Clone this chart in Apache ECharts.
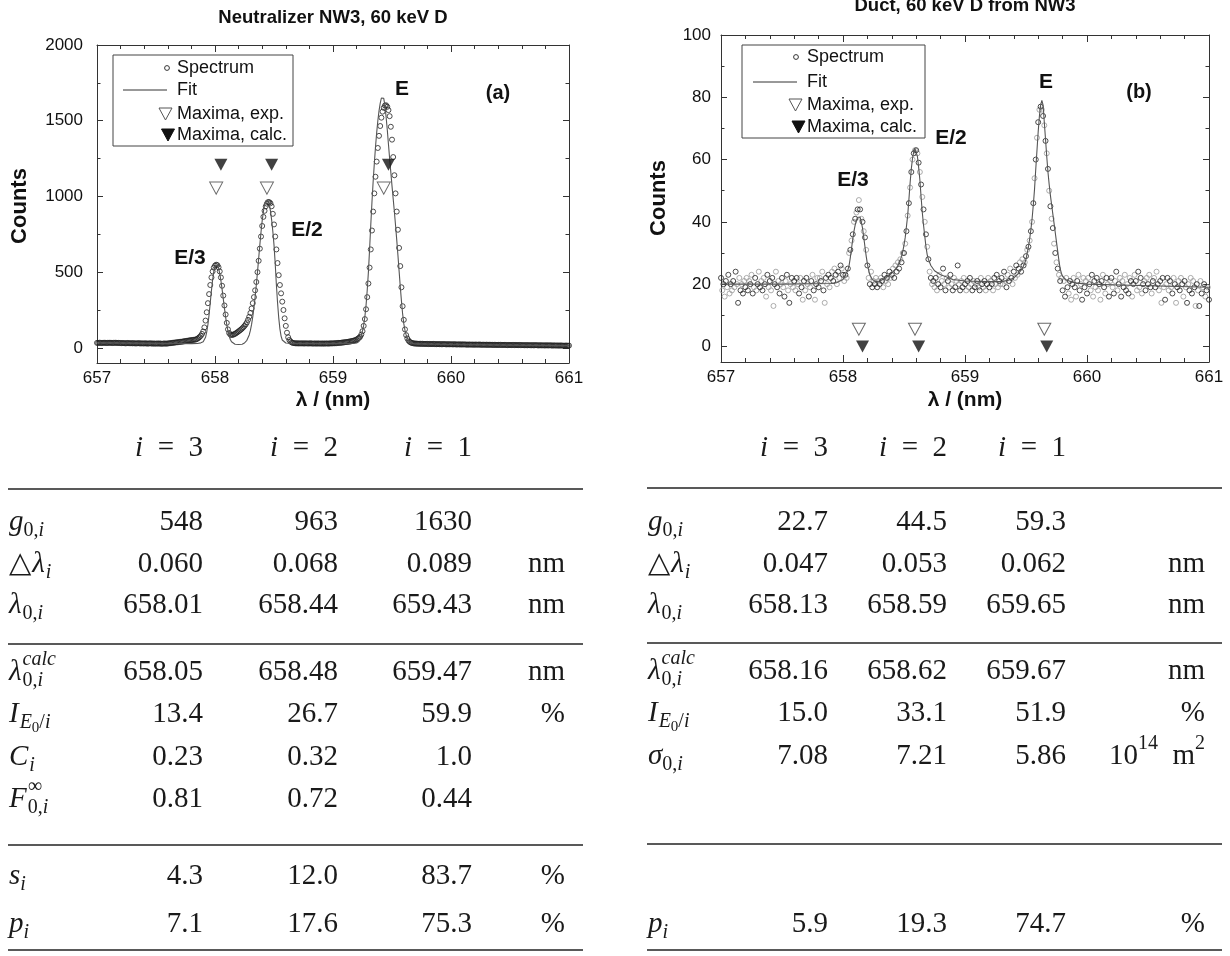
<!DOCTYPE html>
<html><head><meta charset="utf-8">
<script src="https://cdn.jsdelivr.net/npm/echarts@6/dist/echarts.min.js"></script>
<style>html,body{margin:0;padding:0;background:#fff}#c{width:1230px;height:956px}</style>
</head><body><div id="c"></div>
<script>
// ================= DATA =================
const lamStart = 657.0, lamStep = 0.01;
// (a) Neutralizer NW3 spectrum, one value per 0.01 nm from 657.00 to 661.00
const spectrumA = [
33,32,34,33,32,33,34,33,32,33, 33,34,33,32,33,33,34,32,33,32,
32,31,32,31,30,31,32,31,30,31, 30,31,30,29,30,31,30,29,30,29,
29,30,29,28,29,30,29,28,29,28, 28,29,28,29,28,27,28,29,28,28,
29,30,31,32,33,34,35,36,37,38, 39,40,41,42,44,45,46,47,49,50,
51,52,53,54,56,60,65,72,80,92, 108,135,180,235,295,355,415,465,505,530,
543,549,546,532,505,465,410,345,280,220, 165,122,98,88,85,86,89,93,98,103,
109,115,121,128,136,145,155,168,185,205, 230,260,295,335,380,435,500,575,655,735,
805,865,905,935,952,963,962,955,935,885, 815,735,650,560,480,415,360,305,250,195,
145,100,70,52,42,36,33,31,30,30, 30,29,30,29,30,29,29,30,29,29,
29,30,29,28,29,29,28,29,29,28, 29,28,29,28,29,29,28,29,30,29,
30,30,31,31,32,33,33,34,35,36, 37,38,39,40,42,43,45,47,49,51,
55,60,66,73,88,110,145,190,255,335, 425,530,650,775,900,1020,1130,1230,1320,1400,
1465,1520,1560,1585,1600,1602,1592,1570,1530,1460, 1375,1260,1140,1020,900,780,660,540,400,275,
185,122,84,62,48,40,35,32,30,29, 28,28,27,27,27,26,27,26,26,26,
26,25,26,25,25,26,25,25,24,25, 24,25,24,24,25,24,23,24,24,23,
24,23,23,24,23,22,23,23,22,23, 22,23,22,22,21,22,22,21,22,21,
21,22,21,21,22,21,20,21,21,20, 21,20,20,21,20,20,19,20,20,19,
20,19,20,19,19,20,19,19,18,19, 19,18,19,19,18,19,18,18,19,18,
18,18,17,18,18,17,18,17,17,18, 17,17,18,17,16,17,17,16,17,16,
16,17,16,16,17,16,15,16,16,15, 16,15,15,16,15,15,14,15,15,14,
15];
// (a) fit curve [lambda, counts]
const fitA = [
[657.0,33],[657.3,31],[657.6,29],[657.8,28],[657.85,29],[657.88,33],[657.9,40],[657.91,50],[657.92,70],[657.93,105],
[657.94,155],[657.95,220],[657.96,300],[657.97,380],[657.98,450],[657.99,505],[658.0,538],[658.01,550],[658.02,548],[658.03,528],
[658.04,492],[658.05,445],[658.06,388],[658.07,325],[658.08,262],[658.09,203],[658.1,152],[658.11,110],[658.12,78],[658.13,55],
[658.14,40],[658.15,31],[658.17,24],[658.2,22],[658.23,24],[658.25,32],[658.27,50],[658.29,85],[658.3,115],[658.31,155],
[658.32,205],[658.33,265],[658.34,335],[658.35,415],[658.36,500],[658.37,590],[658.38,680],[658.39,765],[658.4,840],[658.41,900],
[658.42,945],[658.43,970],[658.44,978],[658.45,972],[658.46,948],[658.47,905],[658.48,845],[658.49,770],[658.5,680],[658.51,560],
[658.52,420],[658.53,300],[658.54,200],[658.55,125],[658.56,78],[658.57,52],[658.58,40],[658.6,32],[658.65,29],[658.8,29],
[659.0,28],[659.15,28],[659.2,32],[659.22,42],[659.23,58],[659.24,80],[659.25,110],[659.26,150],[659.27,205],[659.28,280],
[659.29,380],[659.3,500],[659.31,650],[659.32,810],[659.33,960],[659.34,1095],[659.35,1215],[659.36,1325],[659.37,1420],[659.38,1500],
[659.39,1565],[659.4,1615],[659.41,1650],[659.42,1662],[659.43,1648],[659.44,1600],[659.45,1525],[659.46,1440],[659.47,1345],[659.48,1250],
[659.49,1160],[659.5,1070],[659.51,985],[659.52,900],[659.53,810],[659.54,715],[659.55,615],[659.56,510],[659.57,405],[659.58,310],
[659.59,225],[659.6,160],[659.61,115],[659.62,85],[659.63,62],[659.64,47],[659.65,38],[659.67,30],[659.7,26],[660.0,22],
[660.5,18],[661.0,15]];
// (b) Duct spectrum, one value per 0.01 nm from 657.00 to 661.00
const spectrumB = [
22,18,20,16,21,19,23,17,20,18, 21,19,24,20,14,22,18,20,17,21,
19,22,18,21,20,23,17,19,22,18, 20,24,19,21,18,22,20,16,23,19,
21,18,22,13,20,24,19,21,17,20, 22,19,16,21,23,18,14,20,22,19,
21,18,22,20,17,22,19,15,21,18, 22,20,16,19,21,23,18,15,20,22,
19,22,21,24,18,14,22,20,23,19, 22,24,21,25,23,20,24,22,26,25,
23,21,23,22,25,30,31,34,36,40, 41,43,44,47,44,41,40,37,35,31,
26,22,20,24,19,21,20,22,19,21, 20,22,21,19,23,21,22,20,24,22,
23,25,22,26,24,27,25,28,27,30, 30,33,37,42,46,51,56,60,62,63,
63,62,59,56,52,48,44,40,36,32, 28,24,22,20,21,19,22,18,20,23,
19,21,25,20,18,22,21,19,23,20, 18,22,19,21,26,20,18,21,19,22,
20,18,21,19,22,20,18,21,19,20, 21,19,18,22,20,19,21,18,20,22,
19,21,20,18,22,20,23,19,21,20, 22,20,24,21,19,23,21,25,22,20,
24,22,26,23,25,27,24,28,26,27, 29,31,32,34,37,40,46,54,60,67,
72,76,77,76,74,71,66,62,57,50, 45,41,38,33,30,27,25,23,21,22,
18,21,16,22,19,17,21,15,20,22, 19,16,21,23,18,20,15,22,19,21,
17,22,20,18,23,16,21,19,22,18, 20,15,21,23,19,17,22,20,16,21,
22,19,17,21,24,18,20,22,16,21, 19,23,18,20,17,22,21,16,20,23,
21,18,24,19,22,17,20,21,18,22, 20,23,19,17,21,22,19,24,20,18,
21,14,22,19,15,20,22,18,21,19, 17,22,20,14,19,21,18,22,20,16,
21,19,14,20,18,22,17,21,19,13, 20,18,13,21,17,19,20,16,18,19,
15];
// (b) fit curve [lambda, counts]
const fitB = [
[657.0,20],[657.5,20],[657.9,20.2],[657.95,20.5],[658.0,21.5],[658.02,23],[658.04,24.5],[658.05,26],[658.06,28.5],[658.07,31.5],
[658.08,34.5],[658.09,37],[658.1,39],[658.11,40.5],[658.12,41.5],[658.13,42],[658.14,41.5],[658.15,40],[658.16,38],[658.17,35],
[658.18,32],[658.19,29],[658.2,26.5],[658.21,24.5],[658.22,23],[658.24,21.5],[658.27,20.8],[658.3,21],[658.35,22],[658.4,23.5],
[658.43,24.8],[658.45,26],[658.47,27.8],[658.48,28.9],[658.49,30.5],[658.5,32.5],[658.51,35],[658.52,38.5],[658.53,42],[658.54,47],
[658.55,52.5],[658.56,57],[658.57,60.5],[658.58,62.5],[658.59,63.5],[658.6,63],[658.61,61],[658.62,57.5],[658.63,53.5],[658.64,48],
[658.65,43],[658.66,39],[658.67,35.5],[658.68,32],[658.69,29.5],[658.7,28],[658.72,26],[658.75,24.3],[658.8,23],[658.85,22.3],
[658.9,21.5],[659.0,21],[659.2,20.8],[659.3,20.8],[659.35,21.2],[659.4,22],[659.44,23.5],[659.47,25],[659.49,26.8],[659.5,28],
[659.51,30],[659.52,32],[659.53,34.5],[659.54,37.5],[659.55,41],[659.56,45.5],[659.57,50.5],[659.58,57],[659.59,63],[659.6,69],
[659.61,74],[659.62,77.5],[659.63,79],[659.64,77.5],[659.65,72],[659.66,66.5],[659.67,61],[659.68,56],[659.69,52],[659.7,48.5],
[659.71,45.5],[659.72,42.5],[659.73,39.5],[659.74,36.5],[659.75,33.5],[659.76,30.5],[659.77,27.5],[659.78,25],[659.79,23.5],[659.8,22.5],
[659.83,21.3],[659.9,20.4],[660.0,20],[660.5,19.5],[661.0,19]];

// maxima positions (nm) taken from the tables
const lam0A = [658.01, 658.44, 659.43];
const lamCalcA = [658.05, 658.48, 659.47];
const lam0B = [658.13, 658.59, 659.65];
const lamCalcB = [658.16, 658.62, 659.67];

// tick labels
const yTicksA = [0, 500, 1000, 1500, 2000];
const yMinorA = [250, 750, 1250, 1750];
const yTicksB = [0, 20, 40, 60, 80, 100];
const yMinorB = [10, 30, 50, 70, 90];

// table values
const colIdx = ['3', '2', '1'];
const g0A = ['548', '963', '1630'];
const dLamA = ['0.060', '0.068', '0.089'];
const lam0StrA = ['658.01', '658.44', '659.43'];
const lamCalcStrA = ['658.05', '658.48', '659.47'];
const intA = ['13.4', '26.7', '59.9'];
const cA = ['0.23', '0.32', '1.0'];
const fA = ['0.81', '0.72', '0.44'];
const sA = ['4.3', '12.0', '83.7'];
const pA = ['7.1', '17.6', '75.3'];

const g0B = ['22.7', '44.5', '59.3'];
const dLamB = ['0.047', '0.053', '0.062'];
const lam0StrB = ['658.13', '658.59', '659.65'];
const lamCalcStrB = ['658.16', '658.62', '659.67'];
const intB = ['15.0', '33.1', '51.9'];
const sigB = ['7.08', '7.21', '5.86'];
const pB = ['5.9', '19.3', '74.7'];

// ================= CHART =================
const SANS = '"Liberation Sans", Arial, sans-serif';
const SERIF = '"Liberation Serif", "DejaVu Serif", serif';
const AX = '#333', TXT = '#111';

const specAData = spectrumA.map((v, i) => [+(lamStart + i * lamStep).toFixed(2), v]);
const specBAll = spectrumB.map((v, i) => [+(lamStart + i * lamStep).toFixed(2), v]);
const specBDark = specBAll.filter((d, i) => i % 2 === 0);
const specBGrey = specBAll.filter((d, i) => i % 2 === 1);

const triDown = 'path://M0,0 L12,0 L6,11 Z';

function xAxes(grid, showLabels, pos) {
  return {
    type: 'value', gridIndex: grid, min: 657, max: 661, interval: 1, position: pos,
    axisLine: { show: true, onZero: false, lineStyle: { color: AX, width: 1 } },
    axisTick: { show: true, inside: true, length: 7, lineStyle: { color: AX } },
    minorTick: { show: true, splitNumber: 5, length: 4, lineStyle: { color: AX } },
    axisLabel: { show: showLabels, fontFamily: SANS, fontSize: 17, color: TXT, margin: 7, formatter: v => String(v) },
    splitLine: { show: false }, minorSplitLine: { show: false }
  };
}
function yAxis(grid, min, max, ticks, pos, showLabels, len, showLine, margin) {
  return {
    type: 'value', gridIndex: grid, min: min, max: max, position: pos,
    axisLine: { show: showLine, onZero: false, lineStyle: { color: AX, width: 1 } },
    axisTick: { show: true, inside: true, length: len, customValues: ticks, lineStyle: { color: AX } },
    axisLabel: { show: showLabels, customValues: ticks, fontFamily: SANS, fontSize: 17, color: TXT, margin: margin,
      formatter: v => String(v) },
    splitLine: { show: false }
  };
}

const spectrumStyle = (c) => ({ color: 'rgba(0,0,0,0)', borderColor: c, borderWidth: 1 });

const series = [
  { type: 'scatter', name: 'Spectrum', xAxisIndex: 0, yAxisIndex: 0, data: specAData, symbol: 'circle', symbolSize: 5,
    itemStyle: spectrumStyle('#222'), z: 2, silent: true },
  { type: 'line', name: 'Fit', xAxisIndex: 0, yAxisIndex: 0, data: fitA, showSymbol: false,
    lineStyle: { color: '#555', width: 1.1 }, z: 3, silent: true },
  { type: 'scatter', name: 'Maxima, exp.', xAxisIndex: 0, yAxisIndex: 0, data: lam0A.map(l => [l, 1055]),
    symbol: triDown, symbolSize: [13, 12], itemStyle: { color: '#fff', borderColor: '#444', borderWidth: 1 }, z: 4 },
  { type: 'scatter', name: 'Maxima, calc.', xAxisIndex: 0, yAxisIndex: 0, data: lamCalcA.map(l => [l, 1210]),
    symbol: triDown, symbolSize: [13, 12], itemStyle: { color: '#111' }, z: 4 },

  { type: 'scatter', name: 'Spectrum', xAxisIndex: 2, yAxisIndex: 4, data: specBGrey, symbol: 'circle', symbolSize: 5,
    itemStyle: spectrumStyle('#999'), z: 2, silent: true },
  { type: 'scatter', name: 'Spectrum', xAxisIndex: 2, yAxisIndex: 4, data: specBDark, symbol: 'circle', symbolSize: 5,
    itemStyle: spectrumStyle('#222'), z: 2, silent: true },
  { type: 'line', name: 'Fit', xAxisIndex: 2, yAxisIndex: 4, data: fitB, showSymbol: false,
    lineStyle: { color: '#555', width: 1.1 }, z: 3, silent: true },
  { type: 'scatter', name: 'Maxima, exp.', xAxisIndex: 2, yAxisIndex: 4, data: lam0B.map(l => [l, 5.5]),
    symbol: triDown, symbolSize: [13, 12], itemStyle: { color: '#fff', borderColor: '#444', borderWidth: 1 }, z: 4 },
  { type: 'scatter', name: 'Maxima, calc.', xAxisIndex: 2, yAxisIndex: 4, data: lamCalcB.map(l => [l, 0]),
    symbol: triDown, symbolSize: [13, 12], itemStyle: { color: '#111' }, z: 4 }
];

// ================= GRAPHIC (titles, legends, annotations, tables) =================
const G = [];
function txt(x, y, s, size, opts) {
  opts = opts || {};
  G.push({ type: 'text', silent: true, x: x, y: y, rotation: opts.rot || 0,
    style: { text: s, font: (opts.weight || 'normal') + ' ' + size + 'px ' + (opts.family || SANS), fill: opts.fill || TXT,
      textAlign: opts.align || 'center', textVerticalAlign: 'middle', verticalAlign: 'middle' } });
}
// titles
txt(333, 18, 'Neutralizer NW3, 60 keV D', 18.5, { weight: 'bold' });
txt(965, 6, 'Duct, 60 keV D from NW3', 18.5, { weight: 'bold' });
// axis names
txt(333, 400, 'λ / (nm)', 21, { weight: 'bold' });
txt(965, 400, 'λ / (nm)', 21, { weight: 'bold' });
txt(20, 206, 'Counts', 22, { weight: 'bold', rot: Math.PI / 2 });
txt(659, 198, 'Counts', 22, { weight: 'bold', rot: Math.PI / 2 });
// peak annotations
txt(402, 89, 'E', 21, { weight: 'bold' });
txt(498, 93, '(a)', 20, { weight: 'bold' });
txt(307, 230, 'E/2', 21, { weight: 'bold' });
txt(190, 258, 'E/3', 21, { weight: 'bold' });
txt(1046, 82, 'E', 21, { weight: 'bold' });
txt(1139, 92, '(b)', 20, { weight: 'bold' });
txt(951, 138, 'E/2', 21, { weight: 'bold' });
txt(853, 180, 'E/3', 21, { weight: 'bold' });

// legends
function legendBox(bx, by, bw, bh, rowsY, tx, cx, lx0, lx1, th, tf) {
  G.push({ type: 'rect', silent: true, shape: { x: bx, y: by, width: bw, height: bh },
    style: { fill: '#fff', stroke: '#444', lineWidth: 1 }, z: 10 });
  const names = ['Spectrum', 'Fit', 'Maxima, exp.', 'Maxima, calc.'];
  names.forEach((n, i) => G.push({ type: 'text', silent: true, x: tx, y: rowsY[i], z: 11,
    style: { text: n, font: '18px ' + SANS, fill: TXT, textAlign: 'left', textVerticalAlign: 'middle', verticalAlign: 'middle' } }));
  G.push({ type: 'circle', silent: true, z: 11, shape: { cx: cx, cy: rowsY[0], r: 2.4 }, style: { fill: 'none', stroke: '#333', lineWidth: 1 } });
  G.push({ type: 'line', silent: true, z: 11, shape: { x1: lx0, y1: rowsY[1], x2: lx1, y2: rowsY[1] }, style: { stroke: '#333', lineWidth: 1 } });
  G.push({ type: 'polygon', silent: true, z: 11, shape: { points: [[th - 6.5, rowsY[2] - 6], [th + 6.5, rowsY[2] - 6], [th, rowsY[2] + 6]] },
    style: { fill: '#fff', stroke: '#555', lineWidth: 1 } });
  G.push({ type: 'polygon', silent: true, z: 11, shape: { points: [[tf - 6.5, rowsY[3] - 6], [tf + 6.5, rowsY[3] - 6], [tf, rowsY[3] + 6]] },
    style: { fill: '#111', stroke: '#111', lineWidth: 1 } });
}
legendBox(113, 55, 180, 91, [68, 90, 114, 135], 177, 167, 123, 167, 165.5, 168);
legendBox(742, 45, 183, 93, [57, 82, 105, 127], 807, 796, 753, 797, 795.5, 798.5);

// ---- math-like table text ----
const mctx = document.createElement('canvas').getContext('2d');
const KIND = {
  r: { size: 29, it: false, dy: 0 }, i: { size: 29, it: true, dy: 0 },
  sr: { size: 20, it: false, dy: 9 }, si: { size: 20, it: true, dy: 9 },
  pr: { size: 20, it: false, dy: -12 }, pi: { size: 20, it: true, dy: -12 },
  ssr: { size: 15, it: false, dy: 14 }
};
function fontOf(k) { return (k.it ? 'italic ' : '') + k.size + 'px ' + SERIF; }
function mathText(x, y, parts, align) {
  let cx = 0, mark = 0, maxX = 0; const out = [];
  for (const p of parts) {
    if (p === 'mark') { mark = cx; continue; }
    if (p === 'back') { cx = mark; continue; }
    const k = KIND[p[1]]; const f = fontOf(k);
    mctx.font = f; const w = mctx.measureText(p[0]).width;
    out.push({ t: p[0], x: cx, dy: k.dy, font: f });
    cx += w + (p[2] || 0); maxX = Math.max(maxX, cx);
  }
  const x0 = align === 'right' ? x - maxX : x;
  out.forEach(o => G.push({ type: 'text', silent: true, x: x0 + o.x, y: y + o.dy,
    style: { text: o.t, font: o.font, fill: '#1a1a1a', textAlign: 'left', textVerticalAlign: 'middle', verticalAlign: 'middle' } }));
}
const LBL = {
  g0: [['g', 'i'], ['0,', 'sr'], ['i', 'si']],
  dl: [['△', 'r', 1], ['λ', 'i', 1], ['i', 'si']],
  l0: [['λ', 'i', 1], ['0,', 'sr'], ['i', 'si']],
  lc: [['λ', 'i', 1], 'mark', ['calc', 'pi'], 'back', ['0,', 'sr'], ['i', 'si']],
  I: [['I', 'i', 1], ['E', 'si'], ['0', 'ssr'], ['/', 'sr'], ['i', 'si']],
  C: [['C', 'i', 1], ['i', 'si']],
  F: [['F', 'i', 1], 'mark', ['∞', 'pr'], 'back', ['0,', 'sr'], ['i', 'si']],
  s: [['s', 'i'], ['i', 'si']],
  p: [['p', 'i'], ['i', 'si']],
  sig: [['σ', 'i'], ['0,', 'sr'], ['i', 'si']]
};
const UNIT = {
  nm: [['nm', 'r']], pct: [['%', 'r']],
  area: [['10', 'r'], ['14', 'pr'], ['\u2002m', 'r'], ['2', 'pr']]
};
function rule(x1, x2, y) {
  G.push({ type: 'line', silent: true, shape: { x1: x1, y1: y, x2: x2, y2: y }, style: { stroke: '#222', lineWidth: 1.6 } });
}
function table(labelX, cols, unitX, ruleX, headerY, rules, rows) {
  colIdx.forEach((c, j) => mathText(cols[j], headerY, [['i', 'i'], ['\u2002=\u2002' + c, 'r']], 'right'));
  rules.forEach(y => rule(ruleX[0], ruleX[1], y));
  rows.forEach(r => {
    mathText(labelX, r.y, LBL[r.lab], 'left');
    r.vals.forEach((v, j) => mathText(cols[j], r.y, [[v, 'r']], 'right'));
    if (r.unit) mathText(unitX, r.y, UNIT[r.unit], 'right');
  });
}
table(9, [203, 338, 472], 565, [8, 583], 448, [489, 644, 845, 950], [
  { y: 522, lab: 'g0', vals: g0A }, { y: 564, lab: 'dl', vals: dLamA, unit: 'nm' },
  { y: 605, lab: 'l0', vals: lam0StrA, unit: 'nm' }, { y: 672, lab: 'lc', vals: lamCalcStrA, unit: 'nm' },
  { y: 714, lab: 'I', vals: intA, unit: 'pct' }, { y: 757, lab: 'C', vals: cA },
  { y: 799, lab: 'F', vals: fA }, { y: 876, lab: 's', vals: sA, unit: 'pct' },
  { y: 924, lab: 'p', vals: pA, unit: 'pct' }
]);
table(648, [828, 947, 1066], 1205, [647, 1222], 448, [488, 643, 844, 950], [
  { y: 522, lab: 'g0', vals: g0B }, { y: 564, lab: 'dl', vals: dLamB, unit: 'nm' },
  { y: 605, lab: 'l0', vals: lam0StrB, unit: 'nm' }, { y: 671, lab: 'lc', vals: lamCalcStrB, unit: 'nm' },
  { y: 713, lab: 'I', vals: intB, unit: 'pct' }, { y: 756, lab: 'sig', vals: sigB, unit: 'area' },
  { y: 924, lab: 'p', vals: pB, unit: 'pct' }
]);

const option = {
  animation: false,
  backgroundColor: '#fff',
  grid: [
    { left: 97, top: 45, width: 472, height: 318 },
    { left: 721, top: 35, width: 488, height: 327 }
  ],
  xAxis: [
    xAxes(0, true, 'bottom'), xAxes(0, false, 'top'),
    xAxes(1, true, 'bottom'), xAxes(1, false, 'top')
  ],
  yAxis: [
    yAxis(0, -100, 2000, yTicksA, 'left', true, 6, true, 14),
    yAxis(0, -100, 2000, yTicksA, 'right', false, 6, true, 8),
    yAxis(0, -100, 2000, yMinorA, 'left', false, 3.5, false, 8),
    yAxis(0, -100, 2000, yMinorA, 'right', false, 3.5, false, 8),
    yAxis(1, -5, 100, yTicksB, 'left', true, 6, true, 10),
    yAxis(1, -5, 100, yTicksB, 'right', false, 6, true, 8),
    yAxis(1, -5, 100, yMinorB, 'left', false, 3.5, false, 8),
    yAxis(1, -5, 100, yMinorB, 'right', false, 3.5, false, 8)
  ],
  series: series,
  graphic: G
};
const chart = echarts.init(document.getElementById('c'), null, { renderer: 'canvas' });
chart.setOption(option);
</script>
</body></html>
